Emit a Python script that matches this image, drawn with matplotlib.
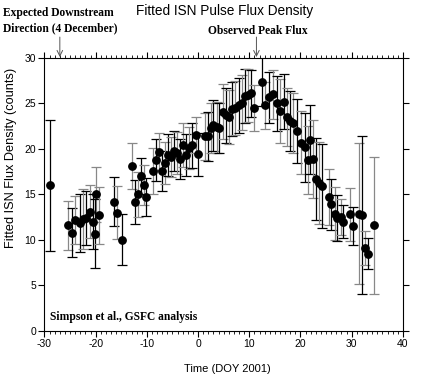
import matplotlib
matplotlib.use("Agg")
import matplotlib.pyplot as plt
from matplotlib.ticker import MultipleLocator

plt.rcParams["axes.unicode_minus"] = False

# Fitted ISN pulse flux density vs time (DOY 2001)
days = [-28.9, -25.4, -24.7, -24.1, -23.0, -22.4, -21.8, -21.1, -20.6, -20.0,
        -20.1, -19.4, -16.5, -15.9, -14.8, -12.9, -12.3, -11.7, -11.2, -10.6,
        -10.1, -8.8, -8.2, -7.6, -7.0, -6.5, -5.9, -5.3, -4.7, -4.1,
        -3.5, -2.9, -2.3, -1.7, -1.1, -0.5, 0.0, 1.3, 1.9, 2.5,
        3.0, 3.6, 4.1, 4.9, 5.5, 6.0, 6.7, 7.3, 8.0, 8.5,
        9.1, 9.7, 10.4, 11.0, 12.5, 13.0, 13.8, 14.7, 15.5, 16.1,
        16.7, 17.3, 17.9, 18.5, 19.3, 20.1, 20.8, 21.4, 21.9, 22.5,
        23.0, 23.7, 24.3, 25.5, 26.0, 26.7, 27.1, 27.9, 28.4, 29.6,
        30.2, 31.5, 32.1, 32.6, 33.1, 34.3]
flux = [16.0, 11.6, 10.8, 12.2, 11.9, 12.3, 12.4, 13.1, 12.0, 15.0,
        10.7, 12.7, 14.2, 13.0, 10.0, 18.1, 14.2, 15.0, 17.0, 16.0,
        14.7, 17.6, 18.8, 19.7, 17.6, 18.5, 19.3, 19.1, 19.8, 19.6,
        18.9, 20.4, 19.3, 20.1, 20.4, 21.5, 19.4, 21.4, 21.4, 22.3,
        22.6, 22.4, 22.3, 24.1, 23.7, 23.5, 24.4, 24.5, 24.8, 25.1,
        25.8, 25.9, 26.1, 24.5, 27.4, 24.8, 25.7, 26.0, 25.0, 24.2,
        25.2, 23.5, 23.1, 22.8, 22.0, 20.7, 20.2, 18.8, 21.0, 18.9,
        16.7, 16.3, 15.9, 14.7, 13.9, 12.9, 12.4, 12.5, 12.0, 12.8,
        11.5, 12.9, 12.7, 9.1, 8.5, 11.6]
err = [7.2, 2.7, 2.7, 2.6, 3.2, 3.3, 3.0, 2.9, 3.0, 3.0,
       3.8, 3.1, 2.7, 2.9, 2.8, 2.5, 2.4, 2.5, 2.0, 2.2,
       2.1, 2.5, 2.3, 2.0, 2.2, 2.3, 2.3, 2.2, 2.2, 2.3,
       2.2, 2.4, 2.3, 2.3, 2.5, 2.0, 2.4, 2.6, 2.7, 2.8,
       2.8, 2.8, 2.8, 3.0, 3.0, 3.0, 3.0, 3.0, 3.0, 3.0,
       3.0, 2.9, 2.6, 2.5, 2.7, 2.6, 2.8, 2.7, 3.0, 3.5,
       3.0, 3.2, 3.3, 3.3, 3.5, 3.5, 3.8, 3.7, 3.8, 4.3,
       4.5, 4.5, 4.6, 3.1, 2.8, 2.9, 2.5, 2.0, 1.8, 2.9,
       2.1, 7.8, 8.7, 1.9, 1.7, 7.5]

fig = plt.figure(figsize=(4.36, 3.79), dpi=100)
ax = fig.add_axes([0.102, 0.127, 0.822, 0.72])

# error bars alternate black / gray like the original
for i in range(len(days)):
    col = "black" if i % 2 == 0 else "#888888"
    ax.errorbar(days[i], flux[i], yerr=err[i], fmt="none", ecolor=col,
                elinewidth=0.9, capsize=3.5, capthick=0.9, zorder=2)
ax.plot(days, flux, "o", color="black", markersize=5.3, zorder=3)

ax.set_xlim(-30, 40)
ax.set_ylim(0, 30)
ax.xaxis.set_major_locator(MultipleLocator(10))
ax.xaxis.set_minor_locator(MultipleLocator(1))
ax.yaxis.set_major_locator(MultipleLocator(5))
ax.tick_params(axis="both", which="major", direction="out", length=4,
               width=0.8, labelsize=7.5, pad=2, top=True, right=True)
ax.tick_params(axis="x", which="minor", direction="out", length=2.5,
               width=0.6, top=True)
for s in ax.spines.values():
    s.set_linewidth(0.8)

ax.set_xlabel("Time (DOY 2001)", family="Liberation Sans", fontsize=8)
ax.set_ylabel("Fitted ISN Flux Density (counts)", family="Liberation Sans",
              fontsize=9.2)
ax.xaxis.set_label_coords(0.51, -0.12)
ax.yaxis.set_label_coords(-0.077, 0.635)
for t in ax.get_xticklabels() + ax.get_yticklabels():
    t.set_family("Liberation Sans")

fig.text(0.514, 0.97, "Fitted ISN Pulse Flux Density", ha="center", va="center",
         family="Liberation Sans", fontsize=9.8)

serif_b = {"family": "Liberation Serif", "weight": "bold", "size": 8.3}
fig.text(0.007, 0.945, "Expected Downstream\nDirection (4 December)",
         ha="left", va="center", linespacing=1.35, **serif_b)
fig.text(0.592, 0.918, "Observed Peak Flux", ha="center", va="center", **serif_b)
ax.text(-29.0, 0.9, "Simpson et al., GSFC analysis", ha="left", va="bottom",
        **serif_b)

arrow = dict(arrowstyle="->", color="#555555", lw=0.7, shrinkA=0, shrinkB=0)
ax.annotate("", xy=(-27.0, 30.1), xytext=(-27.0, 32.3), arrowprops=arrow,
            annotation_clip=False)
ax.annotate("", xy=(11.4, 30.1), xytext=(11.4, 32.3), arrowprops=arrow,
            annotation_clip=False)

fig.savefig("out.png", dpi=100)
